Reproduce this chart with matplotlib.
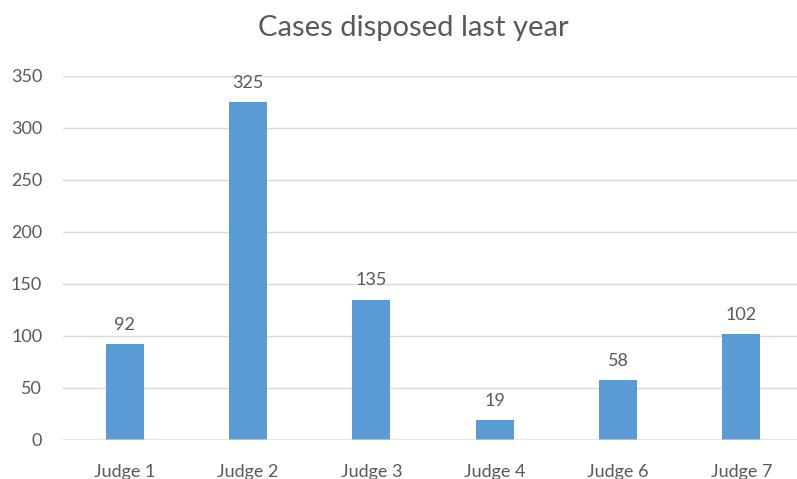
import matplotlib.pyplot as plt
import numpy as np

plt.rcParams['font.family'] = ['Lato', 'DejaVu Sans']

judges = ['Judge 1', 'Judge 2', 'Judge 3', 'Judge 4', 'Judge 6', 'Judge 7']
cases = [92, 325, 135, 19, 58, 102]
yticks = [0, 50, 100, 150, 200, 250, 300, 350]

text_col = '#595959'
bar_col = '#5b9bd5'
grid_col = '#d9d9d9'

fig = plt.figure(figsize=(7.97, 4.79), dpi=100)
ax = fig.add_axes([63 / 797, 39 / 479, 740 / 797, 364 / 479])

x = np.arange(len(judges))
bars = ax.bar(x, cases, width=0.31, color=bar_col, zorder=3)

for b, v in zip(bars, cases):
    ax.annotate(str(v), (b.get_x() + b.get_width() / 2, v), xytext=(0, 8),
                textcoords='offset points', ha='center', va='bottom',
                fontsize=13, color=text_col)

ax.set_xlim(-0.5, len(judges) - 0.5)
ax.set_ylim(0, 350)
ax.set_yticks(yticks)
ax.set_xticks(x)
ax.set_xticklabels(judges)
ax.tick_params(axis='both', length=0, labelsize=13, colors=text_col)
ax.tick_params(axis='y', pad=15)
ax.tick_params(axis='x', pad=17)
ax.grid(axis='y', color=grid_col, linewidth=1, zorder=0)
ax.axhline(0, color=grid_col, linewidth=1.5, alpha=0.6, zorder=4)
for s in ax.spines.values():
    s.set_visible(False)

fig.text(413 / 797, 1 - 28 / 479, 'Cases disposed last year', ha='center', va='center',
         fontsize=21, color=text_col)

fig.savefig('out.png', dpi=100)
